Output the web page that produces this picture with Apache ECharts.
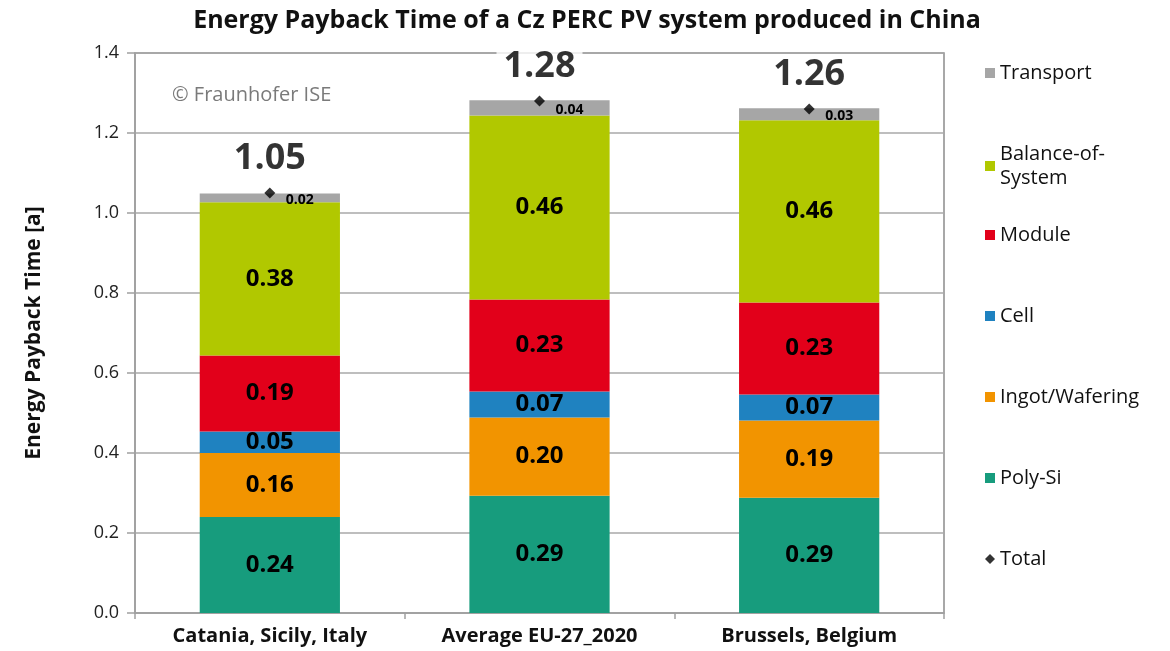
<!DOCTYPE html>
<html>
<head>
<meta charset="utf-8">
<script src="https://cdn.jsdelivr.net/npm/echarts@6/dist/echarts.min.js"></script>
<style>
html,body{margin:0;padding:0;background:#fff;}
#chart{width:1170px;height:651px;}
</style>
</head>
<body>
<div id="chart"></div>
<script>
const categories = ['Catania, Sicily, Italy', 'Average EU-27_2020', 'Brussels, Belgium'];
const polySi    = [0.240, 0.293, 0.288];
const ingot     = [0.160, 0.196, 0.193];
const cell      = [0.054, 0.065, 0.065];
const moduleV   = [0.190, 0.230, 0.230];
const bos       = [0.383, 0.460, 0.456];
const transport = [0.022, 0.038, 0.030];
const totals    = [1.05, 1.28, 1.26];
const yTicks    = [0, 0.2, 0.4, 0.6, 0.8, 1.0, 1.2, 1.4];

const FONT = '"Open Sans", "Noto Sans", sans-serif';
const colors = {
  'Poly-Si': '#179c7d',
  'Ingot/Wafering': '#f29400',
  'Cell': '#1f82c0',
  'Module': '#e2001a',
  'Balance-of-System': '#b1c800',
  'Transport': '#a6a6a6',
  'Total': '#000000'
};

function barSeries(name, data, extraLabel) {
  return {
    name: name,
    type: 'bar',
    stack: 'epbt',
    data: data,
    barWidth: '52%',
    itemStyle: { color: colors[name] },
    label: Object.assign({
      show: true,
      position: 'inside',
      formatter: p => p.value.toFixed(2),
      fontFamily: FONT,
      fontWeight: 'bold',
      fontSize: 24,
      color: '#000'
    }, extraLabel || {})
  };
}

const legendItems = [
  { name: 'Transport', center: 73, icon: 'rect' },
  { name: 'Balance-of-System', center: 166, icon: 'rect' },
  { name: 'Module', center: 235, icon: 'rect' },
  { name: 'Cell', center: 316, icon: 'rect' },
  { name: 'Ingot/Wafering', center: 397, icon: 'rect' },
  { name: 'Poly-Si', center: 478, icon: 'rect' },
  { name: 'Total', center: 559, icon: 'diamond' }
];

const legends = legendItems.map(it => {
  const twoLine = it.name === 'Balance-of-System';
  return {
    data: [{ name: it.name, icon: it.icon }],
    left: 985,
    top: it.center - (twoLine ? 24 : 12),
    padding: 0,
    orient: 'vertical',
    itemWidth: 10,
    itemHeight: 10,
    itemGap: 4,
    selectedMode: false,
    formatter: n => n === 'Balance-of-System' ? 'Balance-of-\nSystem' : n,
    textStyle: { fontFamily: FONT, fontSize: 20, color: '#111', lineHeight: 24 }
  };
});

const chart = echarts.init(document.getElementById('chart'), null, { renderer: 'canvas' });
chart.setOption({
  animation: false,
  backgroundColor: '#fff',
  title: {
    text: 'Energy Payback Time of a Cz PERC PV system produced in China',
    left: 582,
    textAlign: 'center',
    top: 3,
    textStyle: { fontFamily: FONT, fontWeight: 'bold', fontSize: 25, color: '#111' }
  },
  legend: legends,
  grid: {
    left: 135, right: 226, top: 53, bottom: 38,
    show: true, borderColor: '#8c8c8c', borderWidth: 1.5, backgroundColor: 'transparent'
  },
  graphic: [{
    type: 'text',
    left: 172,
    top: 85,
    style: { text: '© Fraunhofer ISE', fontFamily: FONT, fontSize: 20, fill: '#7a7a7a' }
  }],
  xAxis: {
    type: 'category',
    data: categories,
    axisLine: { lineStyle: { color: '#a0a0a0', width: 1.5 } },
    axisTick: { show: true, length: 6, lineStyle: { color: '#a0a0a0', width: 1.5 } },
    axisLabel: { margin: 13, fontFamily: FONT, fontWeight: 'bold', fontSize: 20, color: '#111' }
  },
  yAxis: {
    type: 'value',
    min: 0, max: 1.4, interval: 0.2,
    name: 'Energy Payback Time [a]',
    nameLocation: 'middle',
    nameGap: 90,
    nameRotate: 90,
    nameTextStyle: { fontFamily: FONT, fontWeight: 'bold', fontSize: 21, color: '#111' },
    axisLine: { show: true, lineStyle: { color: '#a0a0a0', width: 1.5 } },
    axisTick: { show: true, length: 8, lineStyle: { color: '#a0a0a0', width: 1.5 } },
    splitLine: { show: true, lineStyle: { color: '#a8a8a8', width: 1.5 } },
    axisLabel: {
      margin: 16, fontFamily: FONT, fontSize: 18, color: '#222',
      customValues: yTicks,
      formatter: v => v.toFixed(1)
    }
  },
  series: [
    barSeries('Poly-Si', polySi),
    barSeries('Ingot/Wafering', ingot),
    barSeries('Cell', cell),
    barSeries('Module', moduleV),
    barSeries('Balance-of-System', bos),
    barSeries('Transport', transport, { fontSize: 14, offset: [30, 2] }),
    {
      name: 'Total',
      type: 'scatter',
      data: totals,
      symbol: 'diamond',
      symbolSize: 11,
      itemStyle: { color: '#000' },
      z: 10,
      label: {
        show: true,
        position: 'top',
        distance: 11,
        formatter: p => p.value.toFixed(2),
        fontFamily: FONT,
        fontWeight: 'bold',
        fontSize: 36,
        color: '#000',
        backgroundColor: '#fff',
        padding: [0, 7]
      }
    }
  ]
});
</script>
</body>
</html>
